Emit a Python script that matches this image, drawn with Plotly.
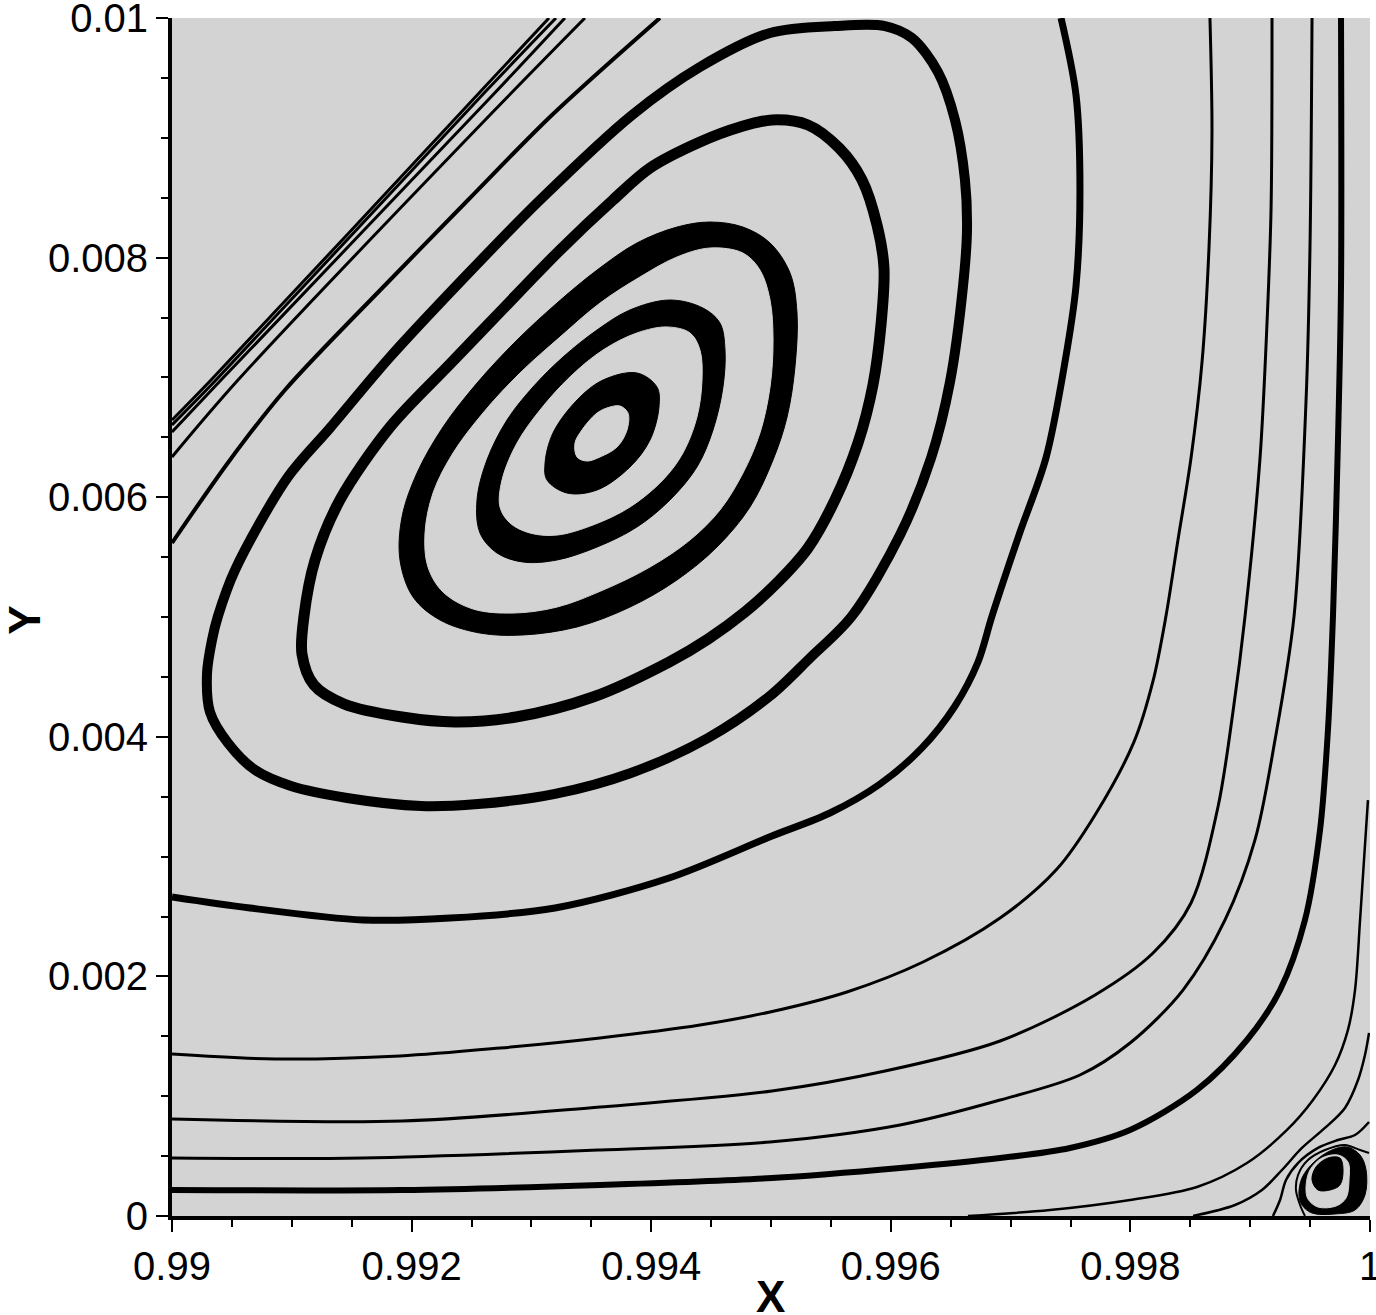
import plotly.graph_objects as go

# ---------------- axis ticks ----------------
X_TICKS = [0.99, 0.992, 0.994, 0.996, 0.998, 1.0]
X_TICK_TEXT = ["0.99", "0.992", "0.994", "0.996", "0.998", "1"]
X_MINOR = [0.9905, 0.991, 0.9915, 0.9925, 0.993, 0.9935, 0.9945, 0.995, 0.9955,
           0.9965, 0.997, 0.9975, 0.9985, 0.999, 0.9995]
Y_TICKS = [0.0, 0.002, 0.004, 0.006, 0.008, 0.01]
Y_TICK_TEXT = ["0", "0.002", "0.004", "0.006", "0.008", "0.01"]
Y_MINOR = [0.0005, 0.001, 0.0015, 0.0025, 0.003, 0.0035, 0.0045, 0.005, 0.0055,
           0.0065, 0.007, 0.0075, 0.0085, 0.009, 0.0095]

# ---------------- streamlines ----------------
# diagonal lines, upper-left
D1_X = [0.993147, 0.992571, 0.990326, 0.99]
D1_Y = [0.01, 0.009382, 0.006978, 0.006644]
D2_X = [0.993205, 0.992613, 0.990367, 0.99]
D2_Y = [0.01, 0.009382, 0.006978, 0.006603]
D3_X = [0.993280, 0.992654, 0.990409, 0.99]
D3_Y = [0.01, 0.009332, 0.006978, 0.006544]
D4_X = [0.993447, 0.992654, 0.990551, 0.99]
D4_Y = [0.01, 0.009190, 0.006978, 0.006336]
D5_X = [0.994073, 0.993172, 0.992471, 0.991820, 0.990943, 0.990484, 0.99]
D5_Y = [0.01, 0.009190, 0.008481, 0.007813, 0.006895, 0.006311, 0.005618]

# outer closed rings (drawn as lines)
RING_A_X = [0.994992, 0.995534, 0.995952, 0.996177, 0.996394, 0.996536, 0.996619, 0.996636,
            0.996603, 0.996494, 0.996336, 0.996077, 0.995676, 0.995326, 0.994992, 0.994474,
            0.993831, 0.993197, 0.992554, 0.992078, 0.991461, 0.990993, 0.990693, 0.990467,
            0.990317, 0.990292, 0.990334, 0.990384, 0.990526, 0.990968, 0.991319, 0.991820,
            0.992404, 0.993072, 0.993840, 0.994407, 0.994992]
RING_A_Y = [0.009875, 0.009933, 0.009933, 0.009833, 0.009549, 0.009149, 0.008648, 0.008230,
            0.007763, 0.006962, 0.006327, 0.005684, 0.005008, 0.004658, 0.004341, 0.003990,
            0.003698, 0.003523, 0.003439, 0.003422, 0.003489, 0.003589, 0.003723, 0.003948,
            0.004207, 0.004524, 0.004808, 0.005008, 0.005392, 0.006169, 0.006578, 0.007170,
            0.007796, 0.008481, 0.009190, 0.009591, 0.009875]
RING_B_X = [0.995008, 0.995309, 0.995568, 0.995760, 0.995885, 0.995943, 0.995918, 0.995851,
            0.995726, 0.995534, 0.995309, 0.995067, 0.994783, 0.994474, 0.994149, 0.993514,
            0.992871, 0.992362, 0.991920, 0.991436, 0.991185, 0.991085, 0.991102, 0.991194,
            0.991402, 0.991820, 0.992321, 0.992738, 0.993239, 0.993681, 0.993990, 0.994407,
            0.994741, 0.995008]
RING_B_Y = [0.009149, 0.009107, 0.008915, 0.008648, 0.008272, 0.007913, 0.007437, 0.006937,
            0.006452, 0.005977, 0.005576, 0.005301, 0.005042, 0.004816, 0.004624, 0.004332,
            0.004165, 0.004124, 0.004165, 0.004274, 0.004432, 0.004691, 0.005008, 0.005476,
            0.005977, 0.006586, 0.007112, 0.007546, 0.008063, 0.008481, 0.008748, 0.008965,
            0.009090, 0.009149]

# thick inner rings: outer and inner edges
R3_OUT_X = [0.994491, 0.994766, 0.994992, 0.995159, 0.995217, 0.995200, 0.995134, 0.995017,
            0.994825, 0.994549, 0.994215, 0.993823, 0.993381, 0.992930, 0.992571, 0.992237,
            0.992012, 0.991903, 0.991920, 0.992045, 0.992262, 0.992546, 0.992880, 0.993214,
            0.993548, 0.993881, 0.994215]
R3_OUT_Y = [0.008297, 0.008255, 0.008122, 0.007871, 0.007538, 0.007087, 0.006669, 0.006311,
            0.005918, 0.005584, 0.005309, 0.005083, 0.004917, 0.004850, 0.004866, 0.004975,
            0.005167, 0.005476, 0.005835, 0.006202, 0.006586, 0.006953, 0.007312, 0.007621,
            0.007896, 0.008122, 0.008255]
R3_IN_X = [0.994491, 0.994766, 0.994908, 0.994992, 0.995017, 0.994992, 0.994908, 0.994766,
           0.994574, 0.994324, 0.993990, 0.993598, 0.993214, 0.992846, 0.992513, 0.992262,
           0.992137, 0.992112, 0.992179, 0.992346, 0.992596, 0.992905, 0.993239, 0.993573,
           0.993906, 0.994215]
R3_IN_Y = [0.008080, 0.008038, 0.007896, 0.007646, 0.007312, 0.006920, 0.006536, 0.006202,
           0.005893, 0.005643, 0.005417, 0.005225, 0.005083, 0.005033, 0.005067, 0.005209,
           0.005417, 0.005701, 0.006035, 0.006369, 0.006703, 0.007037, 0.007337, 0.007621,
           0.007838, 0.008005]
R2_OUT_X = [0.994157, 0.994432, 0.994574, 0.994616, 0.994599, 0.994516, 0.994382, 0.994157,
            0.993881, 0.993548, 0.993214, 0.992930, 0.992713, 0.992571, 0.992546, 0.992629,
            0.992796, 0.993013, 0.993264, 0.993548, 0.993823]
R2_OUT_Y = [0.007646, 0.007579, 0.007454, 0.007229, 0.006920, 0.006561, 0.006252, 0.005977,
            0.005751, 0.005584, 0.005476, 0.005459, 0.005534, 0.005701, 0.005977, 0.006311,
            0.006644, 0.006920, 0.007170, 0.007396, 0.007563]
R2_IN_X = [0.994132, 0.994324, 0.994407, 0.994424, 0.994382, 0.994265, 0.994098, 0.993823,
           0.993514, 0.993214, 0.992988, 0.992821, 0.992738, 0.992755, 0.992880, 0.993072,
           0.993322, 0.993598, 0.993881]
R2_IN_Y = [0.007421, 0.007371, 0.007229, 0.006978, 0.006669, 0.006369, 0.006144, 0.005918,
           0.005768, 0.005684, 0.005701, 0.005785, 0.005918, 0.006144, 0.006452, 0.006728,
           0.007004, 0.007229, 0.007371]
R1_OUT_X = [0.993881, 0.994048, 0.994065, 0.993990, 0.993823, 0.993548, 0.993297, 0.993130,
            0.993114, 0.993180, 0.993381, 0.993598]
R1_OUT_Y = [0.007037, 0.006920, 0.006753, 0.006477, 0.006252, 0.006060, 0.006035, 0.006144,
            0.006285, 0.006536, 0.006811, 0.006978]
R1_IN_X = [0.993740, 0.993806, 0.993798, 0.993715, 0.993573, 0.993464, 0.993381, 0.993364,
           0.993422, 0.993548, 0.993656]
R1_IN_Y = [0.006761, 0.006703, 0.006561, 0.006419, 0.006336, 0.006302, 0.006336, 0.006452,
           0.006561, 0.006703, 0.006753]

# open streamlines from left wall to top
D_X = [0.99, 0.990651, 0.991594, 0.992321, 0.993197, 0.994149, 0.995008, 0.995492, 0.995910,
       0.996260, 0.996536, 0.996728, 0.996845, 0.997070, 0.997295, 0.997454, 0.997546, 0.997579,
       0.997546, 0.997421]
D_Y = [0.002663, 0.002571, 0.002471, 0.002487, 0.002571, 0.002821, 0.003172, 0.003364, 0.003606,
       0.003907, 0.004257, 0.004624, 0.005008, 0.005684, 0.006327, 0.007129, 0.007763, 0.008564,
       0.009357, 0.01]
E_X = [0.99, 0.990860, 0.991903, 0.992738, 0.993573, 0.994407, 0.994992, 0.995634, 0.996269,
       0.996912, 0.997387, 0.997705, 0.998030, 0.998189, 0.998297, 0.998397, 0.998506, 0.998598,
       0.998656, 0.998681, 0.998664]
E_Y = [0.001352, 0.001311, 0.001336, 0.001402, 0.001486, 0.001594, 0.001703, 0.001870, 0.002120,
       0.002487, 0.002896, 0.003347, 0.003957, 0.004466, 0.005008, 0.005643, 0.006327, 0.007129,
       0.008080, 0.009040, 0.01]
F_X = [0.99, 0.991920, 0.993573, 0.995008, 0.995952, 0.996912, 0.997705, 0.998189, 0.998506,
       0.998731, 0.998856, 0.998957, 0.999082, 0.999140, 0.999174, 0.999182]
F_Y = [0.000810, 0.000793, 0.000910, 0.001043, 0.001210, 0.001461, 0.001845, 0.002195, 0.002613,
       0.003414, 0.004207, 0.005008, 0.006327, 0.007446, 0.008406, 0.01]
G_X = [0.99, 0.991594, 0.993573, 0.994992, 0.996077, 0.996912, 0.997579, 0.997997, 0.998439,
       0.998790, 0.999040, 0.999207, 0.999366, 0.999466, 0.999499, 0.999516]
G_Y = [0.000484, 0.000484, 0.000551, 0.000618, 0.000760, 0.000968, 0.001177, 0.001444, 0.001886,
       0.002471, 0.003139, 0.003973, 0.005008, 0.006803, 0.008080, 0.01]
H_X = [0.99, 0.991920, 0.993573, 0.995008, 0.996077, 0.996912, 0.997496, 0.997997, 0.998556,
       0.998973, 0.999249, 0.999457, 0.999583, 0.999649, 0.999691, 0.999733, 0.999758, 0.999758]
H_Y = [0.000217, 0.000217, 0.000259, 0.000317, 0.000401, 0.000484, 0.000568, 0.000718, 0.001052,
       0.001469, 0.001886, 0.002471, 0.003222, 0.004057, 0.005008, 0.006486, 0.007763, 0.01]

# corner streamlines (bottom wall to right wall)
CC1_X = [0.996644, 0.997329, 0.997997, 0.998556, 0.998973, 0.999307, 0.999524, 0.999708,
         0.999816, 0.999875, 0.999917, 0.999950, 0.999983]
CC1_Y = [0.0, 0.000050, 0.000134, 0.000242, 0.000442, 0.000718, 0.000968, 0.001260,
         0.001553, 0.001886, 0.002471, 0.002972, 0.003472]
CC2_X = [0.998523, 0.998873, 0.999098, 0.999265, 0.999432, 0.999624, 0.999791, 0.999900,
         0.999958, 0.999992]
CC2_Y = [0.0, 0.000092, 0.000217, 0.000384, 0.000568, 0.000735, 0.000902, 0.001135,
         0.001344, 0.001528]
CC3_X = [0.999190, 0.999249, 0.999299, 0.999399, 0.999566, 0.999733, 0.999875, 0.999992]
CC3_Y = [0.0, 0.000134, 0.000301, 0.000442, 0.000568, 0.000634, 0.000676, 0.000785]
CC4_X = [0.999457, 0.999416, 0.999382, 0.999399, 0.999482, 0.999624, 0.999791, 0.999917, 0.999992]
CC4_Y = [0.0, 0.000092, 0.000217, 0.000342, 0.000467, 0.000551, 0.000593, 0.000551, 0.000526]

# corner eddy
VOUT_X = [0.999407, 0.999432, 0.999533, 0.999683, 0.999808, 0.999917, 0.999967, 0.999958,
          0.999875, 0.999708, 0.999516, 0.999432]
VOUT_Y = [0.000175, 0.000317, 0.000451, 0.000551, 0.000576, 0.000509, 0.000384, 0.000175,
          0.000050, 0.000017, 0.000025, 0.000092]
VIN_X = [0.999466, 0.999499, 0.999599, 0.999733, 0.999816, 0.999825, 0.999800, 0.999716,
         0.999566, 0.999482]
VIN_Y = [0.000242, 0.000384, 0.000484, 0.000509, 0.000451, 0.000301, 0.000150, 0.000083,
         0.000075, 0.000142]
VCORE_X = [0.999516, 0.999549, 0.999649, 0.999749, 0.999775, 0.999749, 0.999666, 0.999566]
VCORE_Y = [0.000301, 0.000409, 0.000484, 0.000484, 0.000384, 0.000259, 0.000217, 0.000217]

BG = "rgb(211,211,211)"
INK = "black"
FONT = "Liberation Sans, Arial, sans-serif"

fig = go.Figure()


def close(xs, ys):
    return list(xs) + [xs[0]], list(ys) + [ys[0]]


def add_fill(xs, ys, color):
    cx, cy = close(xs, ys)
    fig.add_trace(go.Scatter(
        x=cx, y=cy, mode="lines", fill="toself", fillcolor=color,
        line=dict(color=color, width=1, shape="spline", smoothing=1.0),
        hoverinfo="skip", showlegend=False))


def add_line(xs, ys, width):
    fig.add_trace(go.Scatter(
        x=xs, y=ys, mode="lines",
        line=dict(color=INK, width=width, shape="spline", smoothing=0.9),
        hoverinfo="skip", showlegend=False))


# open lines
for xs, ys, w in [(D1_X, D1_Y, 3), (D2_X, D2_Y, 3), (D3_X, D3_Y, 3), (D4_X, D4_Y, 3),
                  (D5_X, D5_Y, 4), (D_X, D_Y, 7), (E_X, E_Y, 3), (F_X, F_Y, 3),
                  (G_X, G_Y, 3), (H_X, H_Y, 6), (CC1_X, CC1_Y, 2.5), (CC2_X, CC2_Y, 2.5),
                  (CC3_X, CC3_Y, 2.5), (CC4_X, CC4_Y, 2)]:
    add_line(xs, ys, w)

# outer rings
add_line(RING_A_X, RING_A_Y, 10)
add_line(RING_B_X, RING_B_Y, 11)

# thick nested rings
add_fill(R3_OUT_X, R3_OUT_Y, INK)
add_fill(R3_IN_X, R3_IN_Y, BG)
add_fill(R2_OUT_X, R2_OUT_Y, INK)
add_fill(R2_IN_X, R2_IN_Y, BG)
add_fill(R1_OUT_X, R1_OUT_Y, INK)
add_fill(R1_IN_X, R1_IN_Y, BG)

# corner eddy
add_fill(VOUT_X, VOUT_Y, INK)
add_fill(VIN_X, VIN_Y, BG)
add_fill(VCORE_X, VCORE_Y, INK)

axis_common = dict(
    ticks="outside", ticklen=12, tickwidth=1.5, tickcolor=INK,
    showline=True, linewidth=4, linecolor=INK, mirror=False,
    showgrid=False, zeroline=False, tickmode="array", ticklabeloverflow="allow",
    automargin=False,
)
fig.update_xaxes(range=[0.99, 1.0], tickvals=X_TICKS, ticktext=X_TICK_TEXT,
                 minor=dict(tickmode="array", tickvals=X_MINOR, ticks="outside", ticklen=7,
                            tickwidth=1.5, tickcolor=INK, showgrid=False),
                 **axis_common)
fig.update_yaxes(range=[0.0, 0.01], tickvals=Y_TICKS, ticktext=Y_TICK_TEXT,
                 minor=dict(tickmode="array", tickvals=Y_MINOR, ticks="outside", ticklen=7,
                            tickwidth=1.5, tickcolor=INK, showgrid=False),
                 **axis_common)

fig.update_layout(
    width=1376, height=1315,
    margin=dict(l=172, r=6, t=18, b=99, pad=0, autoexpand=False),
    paper_bgcolor="white", plot_bgcolor=BG,
    font=dict(family=FONT, size=40, color=INK),
    showlegend=False,
    annotations=[
        dict(text="<b>X</b>", xref="paper", yref="paper", x=0.4992, y=-0.0668,
             xanchor="center", yanchor="middle", showarrow=False,
             font=dict(family=FONT, size=44, color=INK)),
        dict(text="<b>Y</b>", xref="paper", yref="paper", x=-0.1230, y=0.4975,
             xanchor="center", yanchor="middle", showarrow=False, textangle=-90,
             font=dict(family=FONT, size=44, color=INK)),
    ],
)

fig.write_html("out.html",
               config={"displayModeBar": False},
               post_script="document.body.style.margin='0';document.body.style.overflow='hidden';")
